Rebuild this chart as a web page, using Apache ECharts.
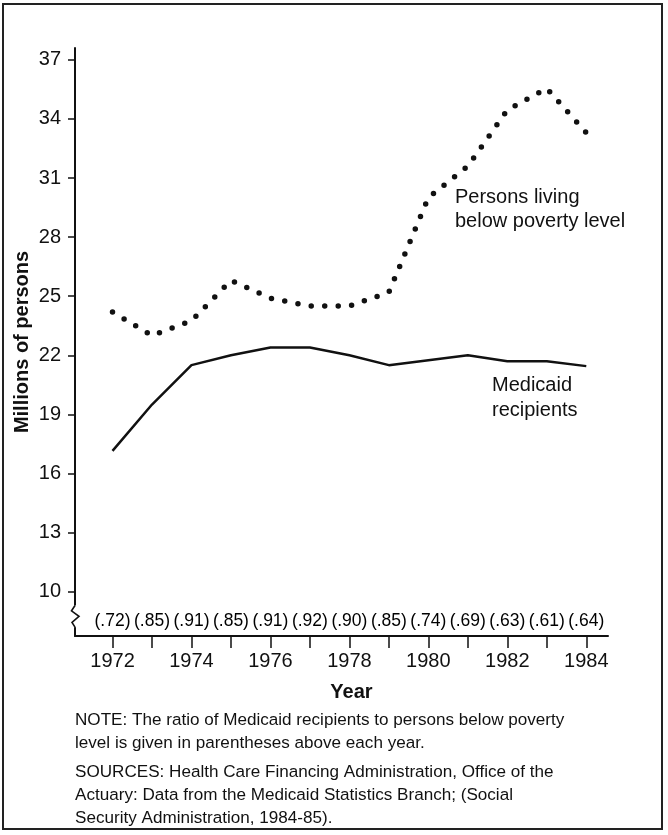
<!DOCTYPE html>
<html><head><meta charset="utf-8">
<script src="https://cdn.jsdelivr.net/npm/echarts@6/dist/echarts.min.js"></script>
<style>html,body{margin:0;padding:0;background:#fff}#c{width:668px;height:835px}</style>
</head><body><div id="c"></div>
<script>
const years = [1972,1973,1974,1975,1976,1977,1978,1979,1980,1981,1982,1983,1984];
const medicaid = [17.15,19.5,21.5,22.0,22.4,22.4,22.0,21.5,21.75,22.0,21.7,21.7,21.45];
const poverty = [24.2,23.0,23.75,25.8,24.9,24.5,24.5,25.2,30.0,31.6,34.45,35.55,33.3];
const ratios = ['(.72)','(.85)','(.91)','(.85)','(.91)','(.92)','(.90)','(.85)','(.74)','(.69)','(.63)','(.61)','(.64)'];
const yTicks = [10,13,16,19,22,25,28,31,34,37];
const xLabelYears = [1972,1974,1976,1978,1980,1982,1984];
const ratioRowValue = 8.5;
const FONT = "'Liberation Sans', Arial, Helvetica, sans-serif";
const INK = '#111';

const chart = echarts.init(document.getElementById('c'), null, {renderer:'canvas'});
const staticGraphics = [
  {id: 'frame', type: 'rect', shape: {x: 3, y: 4, width: 659, height: 825}, style: {fill: 'none', stroke: '#222', lineWidth: 2}, silent: true},
  {id: 'lblPov', type: 'text', left: 455, top: 185, style: {text: 'Persons living\nbelow poverty level', font: '20px ' + FONT, fill: INK, lineHeight: 24}},
  {id: 'lblMed', type: 'text', left: 492, top: 373, style: {text: 'Medicaid\nrecipients', font: '20px ' + FONT, fill: INK, lineHeight: 25}},
  {id: 'note', type: 'text', left: 75, top: 709, style: {text: 'NOTE: The ratio of Medicaid recipients to persons below poverty\nlevel is given in parentheses above each year.', font: '17.1px ' + FONT, fill: INK, lineHeight: 23}},
  {id: 'src', type: 'text', left: 75, top: 761, style: {text: 'SOURCES: Health Care Financing Administration, Office of the\nActuary: Data from the Medicaid Statistics Branch; (Social\nSecurity Administration, 1984-85).', font: '17.1px ' + FONT, fill: INK, lineHeight: 23}}
];
const option = {
  animation: false,
  backgroundColor: '#fff',
  textStyle: {fontFamily: FONT, color: INK},
  grid: {left: 75, right: 60, top: 48, bottom: 199, containLabel: false, outerBoundsMode: 'none'},
  xAxis: {
    type: 'value', min: 1971.05, max: 1984.55,
    name: 'Year', nameLocation: 'middle', nameGap: 46, nameMoveOverlap: false,
    nameTextStyle: {fontFamily: FONT, fontWeight: 'bold', fontSize: 20, color: INK, padding: [0,0,0,20]},
    axisLine: {show: true, lineStyle: {color: INK, width: 2}},
    axisTick: {show: true, inside: false, length: 12, customValues: years, lineStyle: {color: INK, width: 1.5}},
    axisLabel: {show: true, customValues: xLabelYears, margin: 15, fontSize: 20, fontFamily: FONT, color: INK, formatter: v => String(v)},
    splitLine: {show: false}
  },
  yAxis: {
    type: 'value', min: 7.75, max: 37.6,
    name: 'Millions of persons', nameLocation: 'middle', nameGap: 43, nameMoveOverlap: false,
    nameTextStyle: {fontFamily: FONT, fontWeight: 'bold', fontSize: 20, color: INK},
    axisLine: {show: true, lineStyle: {color: INK, width: 2}},
    axisTick: {show: true, inside: false, length: 7, customValues: yTicks, lineStyle: {color: INK, width: 1.5}},
    axisLabel: {show: true, customValues: yTicks, margin: 14, fontSize: 20, fontFamily: FONT, color: INK},
    splitLine: {show: false}
  },
  series: [
    {
      name: 'Medicaid recipients', type: 'line', showSymbol: false, symbol: 'none',
      data: years.map((y,i)=>[y, medicaid[i]]),
      lineStyle: {color: INK, width: 2.5}
    },
    {
      name: 'Persons living below poverty level', type: 'line', showSymbol: false, symbol: 'none',
      data: years.map((y,i)=>[y, poverty[i]]),
      lineStyle: {color: INK, width: 5.5, type: [0, 13.5], cap: 'round'}
    },
    {
      name: 'ratio', type: 'scatter', symbolSize: 0, silent: true,
      itemStyle: {opacity: 1, color: INK},
      data: years.map((y,i)=>[y, ratioRowValue]),
      label: {show: true, position: 'inside', formatter: p => ratios[p.dataIndex], fontSize: 17.5, fontFamily: FONT, color: '#000', opacity: 1}
    }
  ],
  graphic: staticGraphics
};
chart.setOption(option);

// axis break squiggle on the y axis
const ax = chart.convertToPixel({gridIndex: 0}, [1971.05, 9.3]);
const bx = chart.convertToPixel({gridIndex: 0}, [1971.05, 8.2]);
const x0 = ax[0], yT = ax[1], yB = bx[1];
const h = yB - yT;
chart.setOption({graphic: staticGraphics.concat([
  {id: 'breakMask', type: 'rect', shape: {x: x0 - 3, y: yT, width: 6, height: h}, style: {fill: '#fff'}, silent: true, z: 100},
  {id: 'breakLine', type: 'polyline', shape: {points: [[x0, yT], [x0 - 3.5, yT + h*0.25], [x0 + 4, yT + h*0.5], [x0 - 3, yT + h*0.78], [x0, yB]]}, style: {stroke: INK, lineWidth: 1.6, fill: 'none'}, silent: true, z: 101}
])});
</script>
</body></html>
